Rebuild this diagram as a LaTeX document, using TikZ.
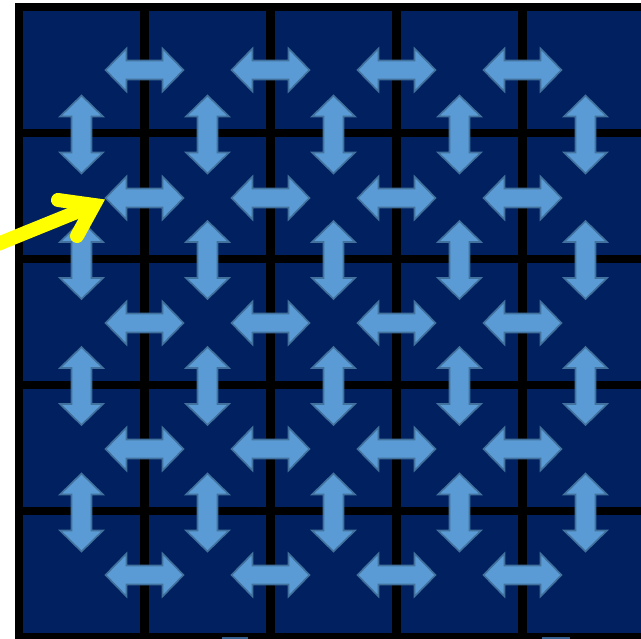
\documentclass[tikz,border=0pt]{standalone}
\usetikzlibrary{calc}
\definecolor{navy}{HTML}{002060}
\definecolor{arrfill}{HTML}{5B9BD5}
\definecolor{arrline}{HTML}{41719C}
\definecolor{ylw}{HTML}{FFFF00}
\tikzset{
  arrowshape/.style={fill=arrfill,draw=arrline,line width=1.6pt,line join=miter},
  cellbox/.style={fill=navy},
  harr/.pic={\path[arrowshape] (-39,0)--(-18,-21.5)--(-18,-9.5)--(18,-9.5)--(18,-21.5)--(39,0)--(18,21.5)--(18,9.5)--(-18,9.5)--(-18,21.5)--cycle;},
  varr/.pic={\path[arrowshape] (0,-39)--(-21.5,-18)--(-10,-18)--(-10,18)--(-21.5,18)--(0,39)--(21.5,18)--(10,18)--(10,-18)--(21.5,-18)--cycle;},
  pointer/.style={draw=ylw,line width=14pt},
}
\begin{document}
\begin{tikzpicture}[x=1pt,y=-1pt]
\useasboundingbox (0,0) rectangle (641,639);
\fill[white] (0,0) rectangle (641,639);
% black frame and grid lines
\fill[black] (15,3) rectangle (641,639);
% cells
\foreach \i in {0,...,4}{
  \foreach \j in {0,...,4}{
    \fill[cellbox] ({22.7+126*\i},{10.7+126*\j}) rectangle ({140+126*\i},{129.3+126*\j});
  }
}
% horizontal double arrows
\foreach \y [count=\r] in {70,198,323,449,575}{
  \foreach \i in {0,...,3}{
    \pic at ({144.5+126*\i},\y) {harr};
  }
}
% vertical double arrows
\foreach \y in {134.5,260,386,512.5}{
  \foreach \i in {0,...,4}{
    \pic at ({81.5+126*\i},\y) {varr};
  }
}
% tiny cut-off shapes at bottom edge
\fill[arrline!80!navy] (222,637) rectangle (248,639);
\fill[arrline!80!navy] (542,637) rectangle (570,639);
% yellow pointer
\coordinate (tail) at (-12,248);
\coordinate (tip) at (94,205);
\coordinate (barbU) at (58,200);
\coordinate (barbL) at (77,236);
\draw[pointer,line cap=butt] (tail) -- (tip);
\draw[pointer,line cap=round,line join=miter,miter limit=20] (barbU) -- (tip) -- (barbL);
\end{tikzpicture}
\end{document}
